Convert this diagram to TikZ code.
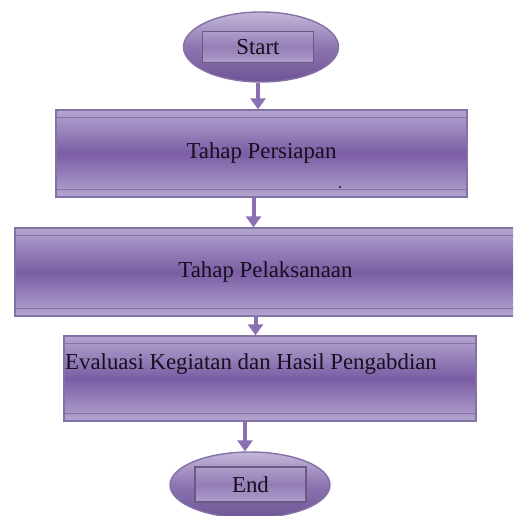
\documentclass[tikz,border=0pt]{standalone}
\usepackage{fontspec}
\setmainfont{Liberation Serif}
\usetikzlibrary{shapes.geometric,arrows.meta}
\definecolor{lilacLight}{HTML}{B4A5D0}
\definecolor{lilacDark}{HTML}{7A5DA4}
\definecolor{lilacEdge}{HTML}{8471A6}
\definecolor{lilacArrow}{HTML}{8A6FB2}
\definecolor{inkDark}{HTML}{16101E}

\tikzset{
  stagebox/.style={rectangle, draw=lilacEdge, line width=0.8pt, inner sep=0pt,
    top color=lilacLight, bottom color=lilacLight, middle color=lilacDark,
    font=\fontsize{13}{15}\selectfont, text=inkDark},
  terminal/.style={ellipse, draw=lilacEdge, line width=0.8pt, inner sep=0pt,
    top color=lilacLight!80!white, bottom color=lilacDark!90!black, middle color=lilacDark!85!white},
  termbox/.style={rectangle, draw=lilacEdge!80!black, line width=0.6pt, inner sep=0pt,
    top color=lilacLight!90!lilacDark, bottom color=lilacLight!90!lilacDark, middle color=lilacDark!80!white,
    font=\fontsize{13}{15}\selectfont, text=inkDark},
  stagetext/.style={inner sep=0pt, font=\fontsize{13}{15}\selectfont, text=inkDark},
  bandline/.style={draw=lilacEdge, line width=0.8pt},
  flow/.style={draw=lilacArrow, line width=0.08cm, -{Triangle[length=0.22cm,width=0.3cm]}}
}

\begin{document}
\begin{tikzpicture}[x=0.02cm,y=-0.02cm]
    \fill[white] (0,0) rectangle (513,516);
    \clip (0,0) rectangle (513,516);
    % terminals and stages
    \node[terminal, minimum width=3.1cm, minimum height=1.4cm] (start) at (261,47) {};
    \node[termbox, minimum width=2.22cm, minimum height=0.62cm] (startbox) at (258,47) {Start};
    \node[stagebox, minimum width=8.22cm, minimum height=1.74cm] (prep) at (261.5,153.5) {Tahap Persiapan};
    \node[stagebox, minimum width=10.02cm, minimum height=1.76cm] (exec) at (265.5,272) {Tahap Pelaksanaan};
    \node[stagebox, minimum width=8.24cm, minimum height=1.7cm] (eval) at (270,378.5) {};
    \node[stagetext, anchor=west] (evaltext) at ([xshift=0.03cm,yshift=0.29cm]eval.west) {Evaluasi Kegiatan dan Hasil Pengabdian};
    \node[terminal, minimum width=3.2cm, minimum height=1.32cm] (end) at (250,485) {};
    \node[termbox, minimum width=2.22cm, minimum height=0.7cm] (endbox) at (250.5,484.5) {End};
    % bands inside the stages
    \foreach \b in {prep,exec,eval}{
        \draw[bandline] ([yshift=-0.16cm]\b.north west) -- ([yshift=-0.16cm]\b.north east);
        \draw[bandline] ([yshift=0.16cm]\b.south west) -- ([yshift=0.16cm]\b.south east);
    }
    \fill[inkDark] (340,187) circle (0.6pt);
    % arrows
    \draw[flow] (startbox.south |- start.south) -- (startbox.south |- prep.north);
    \path (prep.south) ++(-8,0) coordinate (k2);
    \draw[flow] (k2) -- (k2 |- exec.north);
    \path (exec.south) ++(-10,0) coordinate (k3);
    \draw[flow] (k3) -- (k3 |- eval.north);
    \path (eval.south) ++(-25,0) coordinate (k4);
    \draw[flow] (k4) -- (k4 |- end.north);
\end{tikzpicture}
\end{document}
